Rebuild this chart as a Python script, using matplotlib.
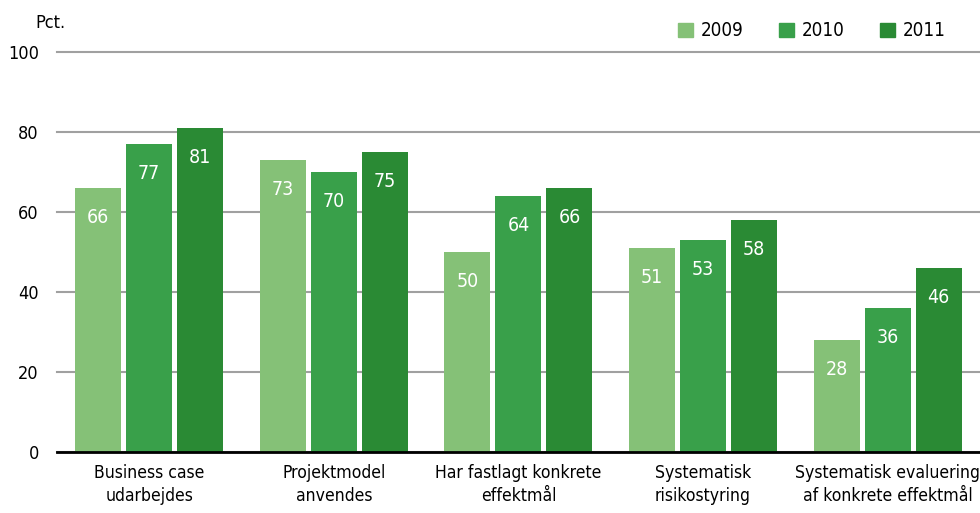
import numpy as np
import matplotlib
matplotlib.use("Agg")
import matplotlib.pyplot as plt
from matplotlib.patches import Patch

plt.rcParams['font.family'] = ['DejaVu Sans']
plt.rcParams['font.stretch'] = 'condensed'

categories = ["Business case\nudarbejdes", "Projektmodel\nanvendes",
              "Har fastlagt konkrete\neffektmål", "Systematisk\nrisikostyring",
              "Systematisk evaluering\naf konkrete effektmål"]
years = ["2009", "2010", "2011"]
v2009 = [66, 73, 50, 51, 28]
v2010 = [77, 70, 64, 53, 36]
v2011 = [81, 75, 66, 58, 46]
colors = ["#85c177", "#39a04a", "#2a8a34"]

fig = plt.figure(figsize=(9.8, 5.13), dpi=100)
ax = fig.add_axes([0.058, 0.119, 0.942, 0.78])

x = np.arange(len(categories))
step = 0.276
width = 0.249
for i, (vals, c) in enumerate(zip([v2009, v2010, v2011], colors)):
    pos = x + (i - 1) * step
    ax.bar(pos, vals, width=width, color=c, zorder=3)
    for p, v in zip(pos, vals):
        ax.text(p, v - 7.3, str(v), ha='center', va='center', color='white',
                fontsize=14, zorder=4)

ax.set_xlim(-0.5, 4.5)
ax.set_ylim(0, 100)
ax.set_yticks([0, 20, 40, 60, 80, 100])
ax.grid(axis='y', color='#a0a0a0', lw=1.5, zorder=0)
for gl in ax.get_ygridlines():
    gl.set_clip_on(False)
for s in ['top', 'right', 'left']:
    ax.spines[s].set_visible(False)
ax.spines['bottom'].set_color('black')
ax.spines['bottom'].set_linewidth(2)
ax.spines['bottom'].set_zorder(5)
ax.tick_params(axis='both', length=0)
ax.tick_params(axis='y', pad=13, labelsize=13)
ax.tick_params(axis='x', pad=9, labelsize=12.6)
ax.set_xticks(x)
ax.set_xticklabels(categories, linespacing=1.3)

fig.text(0.036, 0.955, "Pct.", fontsize=13, ha='left', va='center')

handles = [Patch(color=c) for c in colors]
fig.legend(handles, years, loc='center right', bbox_to_anchor=(0.982, 0.94),
           ncol=3, frameon=False, fontsize=13.5, handlelength=0.8, handleheight=0.8,
           columnspacing=1.9, handletextpad=0.4)

fig.savefig("out.png", dpi=100)
